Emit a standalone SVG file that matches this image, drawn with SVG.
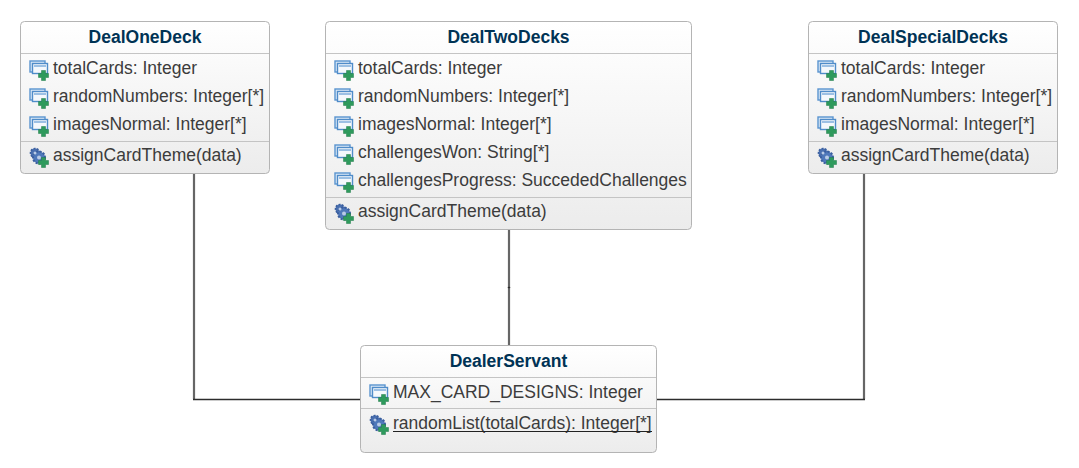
<svg xmlns="http://www.w3.org/2000/svg" width="1079" height="468" viewBox="0 0 1079 468">
<style>
.box{stroke:#b4b4b4;stroke-width:1;fill:url(#g)}
.sep{stroke:#c4c4c4;stroke-width:1}
text{font-family:"Liberation Sans",Arial,sans-serif;font-size:17.5px;fill:#3c3c3c}
.t{font-weight:700;fill:#003355;text-anchor:middle;font-size:17.5px}
.v{fill:none;stroke:#666;stroke-width:2.2}
.h{fill:none;stroke:#2c2c2c;stroke-width:1.3}
</style>
<defs>
<linearGradient id="g" x1="0" y1="0" x2="0" y2="1"><stop offset="0" stop-color="#fff"/><stop offset="1" stop-color="#ececec"/></linearGradient>
<g id="plus"><path d="M12.500 10.500h4v3h3v4h-3v3h-4v-3h-3v-4h3z" fill="#2e9a5c" stroke="#1f7a48" stroke-width=".5"/></g>
<g id="attr">
<rect x="1" y="1" width="15" height="11" fill="#dbe9f7" stroke="#5a94cf" stroke-width="1.4"/>
<rect x="3.500" y="3.500" width="15" height="10" fill="#f4f8fc" stroke="#4f8cc9" stroke-width="1.4"/>
<path d="M5 6h12" stroke="#9cc0e4" stroke-width="2"/>
<use href="#plus"/>
</g>
<g id="op">
<circle cx="6" cy="6" r="4.500" fill="#4a70b0" stroke="#3a5f9f" stroke-dasharray="2 1.200" stroke-width="1.600"/>
<circle cx="10" cy="10.500" r="6" fill="#4f78ba" stroke="#3a5f9f" stroke-dasharray="2.200 1.300" stroke-width="2"/>
<circle cx="10" cy="10.500" r="2" fill="#b9cbe6"/>
<circle cx="6" cy="6" r="1.500" fill="#b9cbe6"/>
<use href="#plus"/>
</g>
</defs>
<rect width="1079" height="468" fill="#fff"/>
<g id="connectors">
<path class="v" d="M194 173.500V399"/>
<path class="h" d="M193 399.500H360"/>
<path class="v" d="M864 173.500V399"/>
<path class="h" d="M865 399.500H657"/>
<path class="v" d="M509 229.500V345"/>
<path class="h" d="M507.800 287.500H510.200"/>
</g>
<g id="DealOneDeck">
<rect class="box" x="20.500" y="21.500" width="249" height="152" rx="4"/>
<path class="sep" d="M21 53.500H269M21 141.500H269"/>
<text class="t" x="145" y="42.500">DealOneDeck</text>
<use href="#attr" x="29" y="60"/><text x="53" y="74">totalCards: Integer</text>
<use href="#attr" x="29" y="88"/><text x="53" y="102">randomNumbers: Integer[*]</text>
<use href="#attr" x="29" y="116"/><text x="53" y="130">imagesNormal: Integer[*]</text>
<use href="#op" x="29" y="147"/><text x="53" y="160.500">assignCardTheme(data)</text>
</g>
<g id="DealTwoDecks">
<rect class="box" x="325.500" y="21.500" width="366" height="208" rx="4"/>
<path class="sep" d="M326 53.500H691M326 197.500H691"/>
<text class="t" x="508.500" y="42.500">DealTwoDecks</text>
<use href="#attr" x="334" y="60"/><text x="358" y="74">totalCards: Integer</text>
<use href="#attr" x="334" y="88"/><text x="358" y="102">randomNumbers: Integer[*]</text>
<use href="#attr" x="334" y="116"/><text x="358" y="130">imagesNormal: Integer[*]</text>
<use href="#attr" x="334" y="144"/><text x="358" y="158">challengesWon: String[*]</text>
<use href="#attr" x="334" y="172"/><text x="358" y="186">challengesProgress: SuccededChallenges</text>
<use href="#op" x="334" y="203"/><text x="358" y="217">assignCardTheme(data)</text>
</g>
<g id="DealSpecialDecks">
<rect class="box" x="808.500" y="21.500" width="249" height="152" rx="4"/>
<path class="sep" d="M809 53.500H1057M809 141.500H1057"/>
<text class="t" x="933" y="42.500">DealSpecialDecks</text>
<use href="#attr" x="817" y="60"/><text x="841" y="74">totalCards: Integer</text>
<use href="#attr" x="817" y="88"/><text x="841" y="102">randomNumbers: Integer[*]</text>
<use href="#attr" x="817" y="116"/><text x="841" y="130">imagesNormal: Integer[*]</text>
<use href="#op" x="817" y="147"/><text x="841" y="160.500">assignCardTheme(data)</text>
</g>
<g id="DealerServant">
<rect class="box" x="360.500" y="345.500" width="296" height="107" rx="4"/>
<path class="sep" d="M361 377.500H656M361 408.500H656"/>
<text class="t" x="508.500" y="367">DealerServant</text>
<use href="#attr" x="369" y="384"/><text x="393" y="398">MAX_CARD_DESIGNS: Integer</text>
<use href="#op" x="369" y="414"/><text x="393" y="429">randomList(totalCards): Integer[*]</text>
<path d="M393 431.500H652" stroke="#222" stroke-width="1"/>
</g>
</svg>
